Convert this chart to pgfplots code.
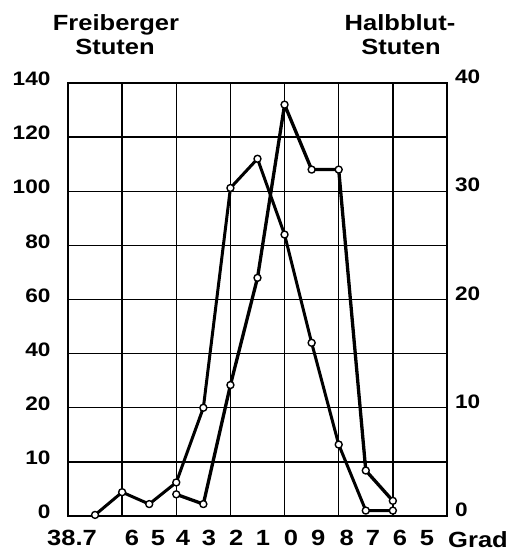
\documentclass[border=0pt]{standalone}
\usepackage{pgfplots}
\pgfplotsset{compat=1.18}
\usepackage{fontspec}
\setmainfont[FakeStretch=1.16]{Liberation Sans}
\begin{document}
\begin{tikzpicture}[x=1pt,y=1pt]
\begin{axis}[
  at={(68pt,38pt)}, anchor=south west,
  scale only axis, width=379pt, height=433pt,
  xmin=37.4, xmax=38.8, x dir=reverse,
  ymin=0, ymax=40,
  axis line style={line width=1.6pt},
  xtick={37.6,37.8,38.0,38.2,38.4,38.6},
  xticklabels={},
  ytick={0,5,10,15,20,25,30,35,40},
  yticklabels={0,10,20,40,60,80,100,120,140},
  xmajorgrids, ymajorgrids,
  grid style={black, line width=1.4pt},
  major tick length=0pt,
  extra x ticks={38.785,38.564,38.468,38.375,38.279,38.179,38.080,37.976,37.876,37.770,37.673,37.574,37.474},
  extra x tick labels={38.7,6,5,4,3,2,1,0,9,8,7,6,5},
  extra x tick style={grid=none, major tick length=0pt,
     xticklabel style={font=\bfseries\fontsize{22}{22}\selectfont, yshift=-11pt}},
  yticklabel style={font=\bfseries\fontsize{19.5}{19.5}\selectfont, yshift=4pt, xshift=-14pt},
  clip=false,
]
\addplot[black, line width=3pt, line join=round, mark=*, mark size=3.5pt,
  mark options={fill=white, draw=black, line width=1.4pt, solid}]
  coordinates {(38.7,0.1) (38.6,2.2) (38.5,1.1) (38.4,3.1) (38.3,10.0) (38.2,30.3)
   (38.1,33.0) (38.0,26.0) (37.9,16.0) (37.8,6.6) (37.7,0.5) (37.6,0.5)};
\addplot[black, line width=3.3pt, line join=round, mark=*, mark size=3.5pt,
  mark options={fill=white, draw=black, line width=1.4pt, solid}]
  coordinates {(38.4,2.0) (38.3,1.1) (38.2,12.1) (38.1,22.0) (38.0,38.0)
   (37.9,32.0) (37.8,32.0) (37.7,4.2) (37.6,1.4)};
\end{axis}
\begin{axis}[
  at={(68pt,38pt)}, anchor=south west,
  scale only axis, width=379pt, height=433pt,
  xmin=37.4, xmax=38.8, x dir=reverse,
  ymin=0, ymax=40,
  hide x axis,
  axis y line*=right,
  axis line style={line width=1.6pt},
  ytick={0,10,20,30,40},
  yticklabels={0,10,20,30,40},
  major tick length=0pt,
  yticklabel style={font=\bfseries\fontsize{19.5}{19.5}\selectfont, yshift=6pt, xshift=4.5pt},
]
\end{axis}
\node[anchor=base, font=\bfseries\fontsize{22}{22}\selectfont] at (116,523) {Freiberger};
\node[anchor=base, font=\bfseries\fontsize{22}{22}\selectfont] at (115,499) {Stuten};
\node[anchor=base, font=\bfseries\fontsize{22}{22}\selectfont] at (400,523) {Halbblut-};
\node[anchor=base, font=\bfseries\fontsize{22}{22}\selectfont] at (401,499) {Stuten};
\node[anchor=base, font=\bfseries\fontsize{22}{22}\selectfont] at (478,6.5) {Grad};
\pgfresetboundingbox
\path[use as bounding box] (0,0) rectangle (510,554);
\end{tikzpicture}
\end{document}
